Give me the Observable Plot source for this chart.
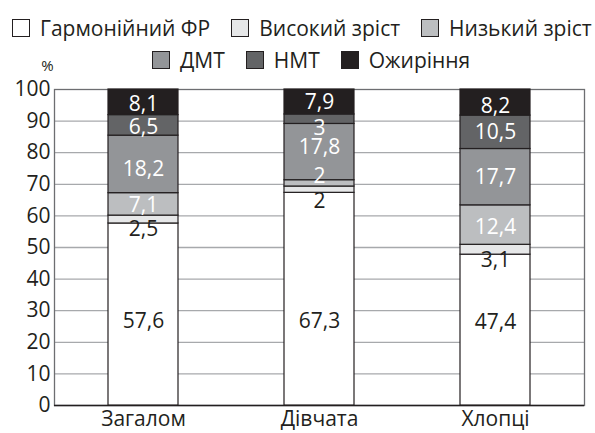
<!DOCTYPE html>
<html>
<head>
<meta charset="utf-8">
<script src="https://cdn.jsdelivr.net/npm/d3@7"></script>
<script src="https://cdn.jsdelivr.net/npm/@observablehq/plot@0.6"></script>
<style>
  html, body { margin: 0; padding: 0; background: #fff; }
  #wrap { width: 595px; height: 433px; position: relative; font-family: "Open Sans", sans-serif; color: #231f20; }
  #legend { position: relative; width: 595px; height: 72px; }
  .row { position: absolute; display: flex; align-items: center; white-space: nowrap; font-size: 21px; line-height: 24px; }
  .item { display: flex; align-items: center; margin-right: 21px; }
  .sw { width: 16px; height: 16px; border: 1px solid #231f20; margin-right: 10px; }
</style>
</head>
<body>
<div id="wrap">
  <div id="legend"></div>
  <div id="chart"></div>
</div>
<script>
// ---- data ----
const categories = ["Загалом", "Дівчата", "Хлопці"];
const groups = ["Гармонійний ФР", "Високий зріст", "Низький зріст", "ДМТ", "НМТ", "Ожиріння"];
const harmonious = [57.6, 67.3, 47.4];
const tall = [2.5, 2, 3.1];
const short = [7.1, 2, 12.4];
const dmt = [18.2, 17.8, 17.7];
const nmt = [6.5, 3, 10.5];
const obesity = [8.1, 7.9, 8.2];
const yTicks = [0, 10, 20, 30, 40, 50, 60, 70, 80, 90, 100];

// ---- styling ----
const colors = ["#ffffff", "#e6e7e8", "#bcbec0", "#939598", "#636466", "#231f20"];
const labelColors = ["#231f20", "#231f20", "#ffffff", "#ffffff", "#ffffff", "#ffffff"];
// pixel nudges of the value labels (per category, per group)
const labelNudge = [
  [7, 10, 1, 5, 2, 2],
  [22, 12, -7, -5, 9, 0],
  [-8, 11, 2, 0, 0, 4]
];

const series = [harmonious, tall, short, dmt, nmt, obesity];
const fmt = v => String(v).replace(".", ",");

const rows = [];
categories.forEach((c, i) => {
  const total = d3.sum(series, s => s[i]);
  let cum = 0;
  groups.forEach((g, j) => {
    const v = series[j][i];
    const y1 = cum / total * 100;
    cum += v;
    const y2 = cum / total * 100;
    rows.push({category: c, group: g, value: v, y1, y2, mid: (y1 + y2) / 2,
      label: fmt(v), labelColor: labelColors[j], nudge: labelNudge[i][j]});
  });
});

// ---- legend ----
const legend = document.getElementById("legend");
const rowsDef = [{items: [0, 1, 2], left: 12, top: 16}, {items: [3, 4, 5], left: 152, top: 48}];
rowsDef.forEach(rd => {
  const r = document.createElement("div");
  r.className = "row";
  r.style.left = rd.left + "px";
  r.style.top = rd.top + "px";
  rd.items.forEach(j => {
    const it = document.createElement("div");
    it.className = "item";
    const sw = document.createElement("div");
    sw.className = "sw";
    sw.style.background = colors[j];
    const tx = document.createElement("span");
    tx.textContent = groups[j];
    it.appendChild(sw); it.appendChild(tx);
    r.appendChild(it);
  });
  legend.appendChild(r);
});

// ---- chart ----
const chart = Plot.plot({
  width: 595,
  height: 361,
  marginTop: 17,
  marginBottom: 28,
  marginLeft: 54,
  marginRight: 11,
  style: {fontFamily: "Open Sans, sans-serif", fontSize: "21px", color: "#231f20", overflow: "visible", background: "transparent"},
  x: {domain: categories, paddingInner: 0.6, paddingOuter: 0.3, tickSize: 0, tickPadding: 6, label: null},
  y: {domain: [0, 100], ticks: yTicks, tickSize: 0, tickPadding: 4, label: null, tickFormat: d => d},
  color: {domain: groups, range: colors},
  marks: [
    Plot.ruleY(yTicks.filter(t => t > 0 && t < 100), {stroke: "#a7a9ac", strokeWidth: 1.3}),
    Plot.frame({stroke: "#6d6e71", strokeWidth: 1.3}),
    Plot.ruleX([0], {x: () => 0, frameAnchor: "left", stroke: "#231f20", strokeWidth: 1.3}),
    Plot.ruleY([0], {stroke: "#231f20", strokeWidth: 1.5}),
    Plot.barY(rows, {x: "category", y1: "y1", y2: "y2", fill: "group", stroke: "#231f20", strokeWidth: 1.2}),
    ...rows.map(r => Plot.text([r], {x: "category", y: "mid", text: "label", fill: r.labelColor, dy: r.nudge, fontSize: 21})),
    Plot.text(["%"], {frameAnchor: "top-left", dx: -7, dy: -29, fontSize: 15, textAnchor: "middle"})
  ]
});
document.getElementById("chart").appendChild(chart);
</script>
</body>
</html>
